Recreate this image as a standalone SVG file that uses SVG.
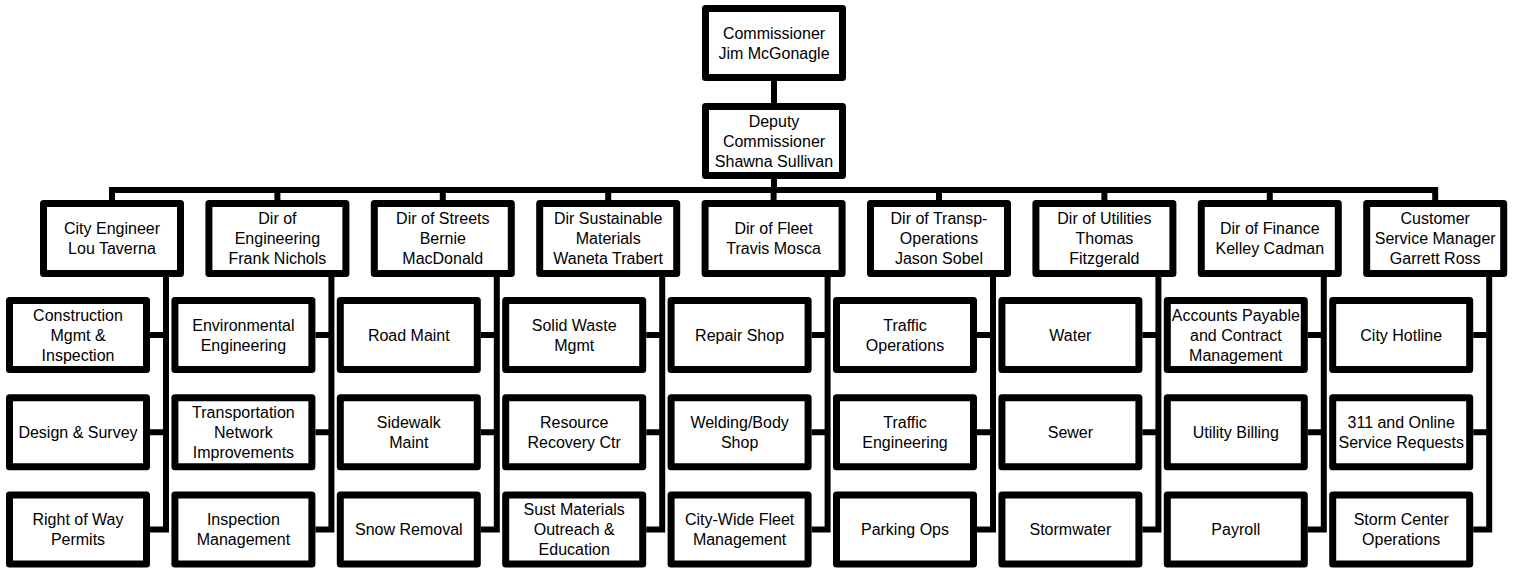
<svg xmlns="http://www.w3.org/2000/svg" width="1516" height="568" viewBox="0 0 1516 568">
<style>
.box{fill:#fff;stroke:#000;stroke-width:7;stroke-linejoin:round}
.c{fill:none;stroke:#000;stroke-width:6;stroke-linejoin:miter}
text{font-family:"Liberation Sans",Arial,sans-serif;font-size:16px;fill:#000;text-anchor:middle}
</style>
<rect width="1516" height="568" fill="#fff"/>
<g id="connectors">
<path class="c" d="M774 81V103M774 179V190M112 200V190H1435.2V200M277.4 190V200M442.8 190V200M608.2 190V200M773.6 190V200M939 190V200M1104.4 190V200M1269.8 190V200"/>
<path class="c" d="M166 277V529.6H150M150 335H166M150 432.3H166"/>
<path class="c" d="M331.4 277V529.6H315.4M315.4 335H331.4M315.4 432.3H331.4"/>
<path class="c" d="M496.8 277V529.6H480.8M480.8 335H496.8M480.8 432.3H496.8"/>
<path class="c" d="M662.2 277V529.6H646.2M646.2 335H662.2M646.2 432.3H662.2"/>
<path class="c" d="M827.6 277V529.6H811.6M811.6 335H827.6M811.6 432.3H827.6"/>
<path class="c" d="M993 277V529.6H977M977 335H993M977 432.3H993"/>
<path class="c" d="M1158.4 277V529.6H1142.4M1142.4 335H1158.4M1142.4 432.3H1158.4"/>
<path class="c" d="M1323.8 277V529.6H1307.8M1307.8 335H1323.8M1307.8 432.3H1323.8"/>
<path class="c" d="M1489.2 277V529.6H1473.2M1473.2 335H1489.2M1473.2 432.3H1489.2"/>
</g>
<g id="commissioner"><rect class="box" x="705.5" y="8.5" width="137" height="69"/><text x="774" y="38.5">Commissioner</text><text x="774" y="58.5">Jim McGonagle</text></g>
<g id="deputy"><rect class="box" x="705.5" y="106.5" width="137" height="69"/><text x="774" y="126.5">Deputy</text><text x="774" y="146.5">Commissioner</text><text x="774" y="166.5">Shawna Sullivan</text></g>

<g id="city-engineer"><rect class="box" x="43.5" y="203.5" width="137" height="70"/><text x="112" y="234">City Engineer</text><text x="112" y="254">Lou Taverna</text></g>
<g id="dir-engineering"><rect class="box" x="208.9" y="203.5" width="137" height="70"/><text x="277.4" y="224">Dir of</text><text x="277.4" y="244">Engineering</text><text x="277.4" y="264">Frank Nichols</text></g>
<g id="dir-streets"><rect class="box" x="374.3" y="203.5" width="137" height="70"/><text x="442.8" y="224">Dir of Streets</text><text x="442.8" y="244">Bernie</text><text x="442.8" y="264">MacDonald</text></g>
<g id="dir-sustainable"><rect class="box" x="539.7" y="203.5" width="137" height="70"/><text x="608.2" y="224">Dir Sustainable</text><text x="608.2" y="244">Materials</text><text x="608.2" y="264">Waneta Trabert</text></g>
<g id="dir-fleet"><rect class="box" x="705.1" y="203.5" width="137" height="70"/><text x="773.6" y="234">Dir of Fleet</text><text x="773.6" y="254">Travis Mosca</text></g>
<g id="dir-transp"><rect class="box" x="870.5" y="203.5" width="137" height="70"/><text x="939" y="224">Dir of Transp-</text><text x="939" y="244">Operations</text><text x="939" y="264">Jason Sobel</text></g>
<g id="dir-utilities"><rect class="box" x="1035.9" y="203.5" width="137" height="70"/><text x="1104.4" y="224">Dir of Utilities</text><text x="1104.4" y="244">Thomas</text><text x="1104.4" y="264">Fitzgerald</text></g>
<g id="dir-finance"><rect class="box" x="1201.3" y="203.5" width="137" height="70"/><text x="1269.8" y="234">Dir of Finance</text><text x="1269.8" y="254">Kelley Cadman</text></g>
<g id="customer-service"><rect class="box" x="1366.7" y="203.5" width="137" height="70"/><text x="1435.2" y="224">Customer</text><text x="1435.2" y="244">Service Manager</text><text x="1435.2" y="264">Garrett Ross</text></g>

<g id="construction"><rect class="box" x="9.5" y="300.5" width="137" height="69"/><text x="78" y="320.5">Construction</text><text x="78" y="340.5">Mgmt &amp;</text><text x="78" y="360.5">Inspection</text></g>
<g id="design-survey"><rect class="box" x="9.5" y="397.8" width="137" height="69"/><text x="78" y="437.8">Design &amp; Survey</text></g>
<g id="right-of-way"><rect class="box" x="9.5" y="495.1" width="137" height="69"/><text x="78" y="525.1">Right of Way</text><text x="78" y="545.1">Permits</text></g>

<g id="environmental"><rect class="box" x="174.9" y="300.5" width="137" height="69"/><text x="243.4" y="330.5">Environmental</text><text x="243.4" y="350.5">Engineering</text></g>
<g id="transportation"><rect class="box" x="174.9" y="397.8" width="137" height="69"/><text x="243.4" y="417.8">Transportation</text><text x="243.4" y="437.8">Network</text><text x="243.4" y="457.8">Improvements</text></g>
<g id="inspection-mgmt"><rect class="box" x="174.9" y="495.1" width="137" height="69"/><text x="243.4" y="525.1">Inspection</text><text x="243.4" y="545.1">Management</text></g>

<g id="road-maint"><rect class="box" x="340.3" y="300.5" width="137" height="69"/><text x="408.8" y="340.5">Road Maint</text></g>
<g id="sidewalk-maint"><rect class="box" x="340.3" y="397.8" width="137" height="69"/><text x="408.8" y="427.8">Sidewalk</text><text x="408.8" y="447.8">Maint</text></g>
<g id="snow-removal"><rect class="box" x="340.3" y="495.1" width="137" height="69"/><text x="408.8" y="535.1">Snow Removal</text></g>

<g id="solid-waste"><rect class="box" x="505.7" y="300.5" width="137" height="69"/><text x="574.2" y="330.5">Solid Waste</text><text x="574.2" y="350.5">Mgmt</text></g>
<g id="resource-recovery"><rect class="box" x="505.7" y="397.8" width="137" height="69"/><text x="574.2" y="427.8">Resource</text><text x="574.2" y="447.8">Recovery Ctr</text></g>
<g id="sust-materials"><rect class="box" x="505.7" y="495.1" width="137" height="69"/><text x="574.2" y="515.1">Sust Materials</text><text x="574.2" y="535.1">Outreach &amp;</text><text x="574.2" y="555.1">Education</text></g>

<g id="repair-shop"><rect class="box" x="671.1" y="300.5" width="137" height="69"/><text x="739.6" y="340.5">Repair Shop</text></g>
<g id="welding"><rect class="box" x="671.1" y="397.8" width="137" height="69"/><text x="739.6" y="427.8">Welding/Body</text><text x="739.6" y="447.8">Shop</text></g>
<g id="fleet-mgmt"><rect class="box" x="671.1" y="495.1" width="137" height="69"/><text x="739.6" y="525.1">City-Wide Fleet</text><text x="739.6" y="545.1">Management</text></g>

<g id="traffic-ops"><rect class="box" x="836.5" y="300.5" width="137" height="69"/><text x="905" y="330.5">Traffic</text><text x="905" y="350.5">Operations</text></g>
<g id="traffic-eng"><rect class="box" x="836.5" y="397.8" width="137" height="69"/><text x="905" y="427.8">Traffic</text><text x="905" y="447.8">Engineering</text></g>
<g id="parking-ops"><rect class="box" x="836.5" y="495.1" width="137" height="69"/><text x="905" y="535.1">Parking Ops</text></g>

<g id="water"><rect class="box" x="1001.9" y="300.5" width="137" height="69"/><text x="1070.4" y="340.5">Water</text></g>
<g id="sewer"><rect class="box" x="1001.9" y="397.8" width="137" height="69"/><text x="1070.4" y="437.8">Sewer</text></g>
<g id="stormwater"><rect class="box" x="1001.9" y="495.1" width="137" height="69"/><text x="1070.4" y="535.1">Stormwater</text></g>

<g id="accounts-payable"><rect class="box" x="1167.3" y="300.5" width="137" height="69"/><text x="1235.8" y="320.5">Accounts Payable</text><text x="1235.8" y="340.5">and Contract</text><text x="1235.8" y="360.5">Management</text></g>
<g id="utility-billing"><rect class="box" x="1167.3" y="397.8" width="137" height="69"/><text x="1235.8" y="437.8">Utility Billing</text></g>
<g id="payroll"><rect class="box" x="1167.3" y="495.1" width="137" height="69"/><text x="1235.8" y="535.1">Payroll</text></g>

<g id="city-hotline"><rect class="box" x="1332.7" y="300.5" width="137" height="69"/><text x="1401.2" y="340.5">City Hotline</text></g>
<g id="service-requests"><rect class="box" x="1332.7" y="397.8" width="137" height="69"/><text x="1401.2" y="427.8">311 and Online</text><text x="1401.2" y="447.8">Service Requests</text></g>
<g id="storm-center"><rect class="box" x="1332.7" y="495.1" width="137" height="69"/><text x="1401.2" y="525.1">Storm Center</text><text x="1401.2" y="545.1">Operations</text></g>
</svg>
